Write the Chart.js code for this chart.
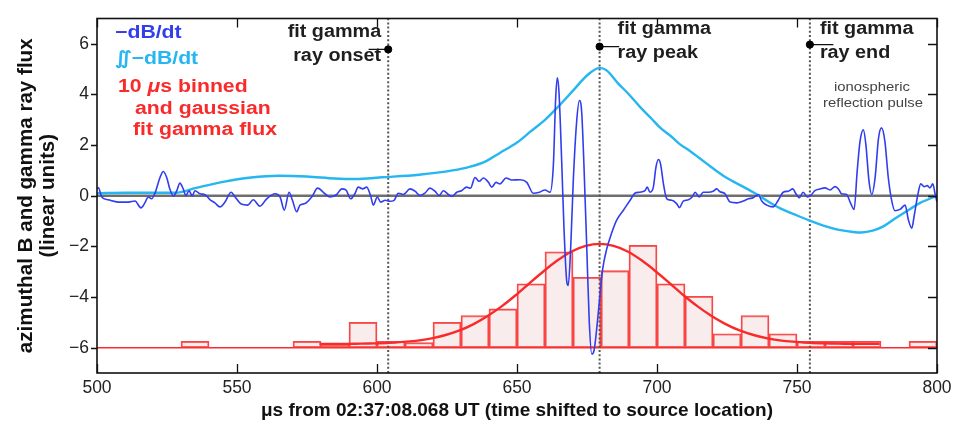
<!DOCTYPE html>
<html>
<head>
<meta charset="utf-8">
<script src="https://cdn.jsdelivr.net/npm/chart.js@4.4.1/dist/chart.umd.min.js"></script>
<style>
  html, body { margin: 0; padding: 0; background: #fff; }
  #wrap { width: 957px; height: 429px; }
</style>
</head>
<body>
<div id="wrap"><canvas id="c" width="957" height="429"></canvas></div>
<script>
// -dB/dt (blue)
const blueTime = [500, 500.5, 501.7, 504, 507.6, 511.2, 513.6, 515.7, 517.1, 518.3, 519.5, 520.7, 522.5, 523.7, 524.9, 526, 527.3, 528.5, 529.6, 530.8, 531.7, 532.9, 534, 535, 536.8, 538.6, 540.4, 542.1, 543.9, 545.7, 547.9, 549.3, 551.7, 553.8, 555.8, 558.2, 560.6, 563.6, 565.4, 566.9, 568.6, 569.8, 571.3, 572.5, 574.3, 576.7, 578.8, 581.4, 583.2, 585.6, 587.4, 588.9, 590.6, 592.1, 593.3, 594.9, 596.3, 597.7, 598.7, 600.1, 601.3, 602.9, 604.6, 606.1, 607.6, 609.4, 611.8, 613.6, 615.4, 617.1, 618.9, 620.7, 622.2, 623.7, 625.5, 626.7, 628.5, 630.2, 632, 633.4, 635, 636.5, 638, 639.8, 641, 642.5, 643.9, 646.1, 648.1, 651.1, 653.5, 655.8, 658, 660, 661.8, 663, 663.8, 664.4, 665, 666, 666.8, 667.8, 668.3, 669.2, 670.1, 671.3, 672.3, 673.1, 673.9, 674.9, 675.8, 676.7, 677.5, 678.5, 679.4, 680.6, 682, 683.8, 685.6, 688, 690.4, 692.1, 693.9, 695.7, 696.5, 697.5, 698.7, 699.6, 700.5, 701.3, 702.3, 703.5, 705.3, 707, 708, 709.4, 711.2, 712.7, 713.6, 715.1, 716.5, 718.3, 720.1, 721.3, 722.5, 724.3, 726.1, 728.5, 730.8, 732.6, 734.4, 736.2, 737.4, 739.2, 741.5, 743.3, 745.1, 746.9, 748.5, 749.6, 750.8, 752.2, 753.7, 754.9, 756.4, 758.2, 760, 761.8, 763.6, 764.8, 765.9, 767.7, 769.2, 770.4, 771.5, 772.5, 773.7, 774.6, 775.7, 776.7, 777.9, 779.1, 780.2, 781.4, 782.6, 783.8, 785, 786.8, 788.6, 789.8, 791, 791.8, 793, 794.2, 795.4, 796.5, 797.5, 798.5, 799.3, 800];
const blueValue = [0.3, 0.31, -0.05, -0.16, -0.25, -0.25, -0.21, -0.48, -0.28, -0.05, -0.12, 0.1, 0.72, 0.96, 0.72, 0.27, -0.01, 0.2, 0.5, 0.27, 0.01, 0.2, -0.01, 0.2, 0.08, 0.04, -0.16, -0.28, -0.44, -0.25, 0.14, -0.05, -0.34, -0.37, -0.16, -0.41, -0.12, 0.08, -0.05, -0.57, 0.14, -0.18, -0.63, -0.37, -0.31, -0.05, 0.3, 0.08, -0.05, 0.05, 0.27, 0.23, -0.12, 0.08, 0.34, 0.27, 0.34, 0.01, -0.37, -0.05, -0.25, -0.18, -0.22, -0.18, 0.1, 0.05, 0.27, 0.18, 0.01, 0.1, 0.3, 0.18, 0.01, 0.2, 0.05, -0.03, 0.14, 0.2, 0.34, 0.3, 0.72, 0.57, 0.7, 0.53, 0.34, 0.53, 0.47, 0.7, 0.62, 0.63, 0.53, 0.1, 0.14, 0.23, 0.14, 1.24, 3.83, 4.66, 4.08, 1.24, -1.34, -3.41, -3.54, -1.99, 0.59, 2.92, 3.76, 3.31, 1.24, -1.99, -4.96, -6.25, -6.12, -5.22, -4.19, -2.9, -2.12, -1.47, -0.96, -0.57, -0.18, 0.1, 0.14, 0.2, 0.34, 0.14, 0.34, 1.11, 1.43, 1.24, 0.47, -0.12, -0.18, -0.31, -0.47, -0.21, -0.16, -0.03, 0.14, -0.05, 0.14, 0.14, 0.18, 0.27, 0.16, 0.08, -0.25, -0.28, -0.21, -0.12, -0.08, 0.05, -0.21, -0.37, -0.44, -0.18, 0.14, 0.18, 0.27, 0.08, -0.08, 0.14, -0.05, 0.01, 0.2, 0.27, 0.31, 0.23, 0.36, 0.27, 0.08, 0.05, -0.31, -0.54, 0.98, 2.14, 2.6, 2.02, 0.59, 0.05, 0.72, 2.27, 2.68, 2.14, 0.72, -0.18, -0.59, -0.54, -0.37, -0.96, -1.28, -0.83, -0.05, 0.47, 0.36, 0.4, 0.31, 0.47, 0.08, -0.25];

// double integral of -dB/dt (light blue)
const cyanTime = [500, 510, 520, 528, 535, 545, 555, 565, 575, 585, 592, 602, 615, 627, 633, 639, 644, 650, 655, 660, 665, 670, 675, 679.5, 682, 686, 690, 694, 698, 701, 705, 708, 712, 715, 718, 721, 725, 730, 735, 740, 744, 750, 755, 760, 765, 770, 773, 777, 781, 785, 790, 794, 800];
const cyanValue = [0.1, 0.12, 0.12, 0.12, 0.3, 0.55, 0.72, 0.79, 0.76, 0.68, 0.66, 0.73, 0.83, 1.0, 1.14, 1.37, 1.7, 2.1, 2.55, 3.0, 3.55, 4.15, 4.75, 5.05, 4.95, 4.45, 4.0, 3.5, 3.05, 2.7, 2.35, 2.05, 1.75, 1.5, 1.25, 1.0, 0.7, 0.4, 0.1, -0.25, -0.5, -0.78, -1.0, -1.2, -1.35, -1.43, -1.45, -1.38, -1.2, -0.9, -0.55, -0.28, 0.0];

// 10 us binned gamma flux (bin centres and bar tops, base at -6)
const binCenter = [505, 515, 525, 535, 545, 555, 565, 575, 585, 595, 605, 615, 625, 635, 645, 655, 665, 675, 685, 695, 705, 715, 725, 735, 745, 755, 765, 775, 785, 795];
const binTop = [-6, -6, -6, -5.75, -6, -6, -6, -5.75, -5.87, -5.0, -5.75, -5.8, -5.0, -4.73, -4.47, -3.48, -2.21, -3.22, -2.96, -1.96, -3.48, -3.97, -5.45, -4.73, -5.45, -5.75, -5.75, -5.75, -6, -5.75];
const histBase = -6;

// gaussian fit curve
const fitTime = [579.5, 584.5, 589.5, 594.5, 599.5, 604.5, 609.5, 614.5, 619.5, 624.5, 629.5, 634.5, 639.5, 644.5, 649.5, 654.5, 659.5, 664.5, 669.5, 674.5, 679.5, 684.5, 689.5, 694.5, 699.5, 704.5, 709.5, 714.5, 719.5, 724.5, 729.5, 734.5, 739.5, 744.5, 749.5, 754.5, 759.5, 764.5, 769.5, 774.5, 779.5];
const fitValue = [-5.85, -5.85, -5.85, -5.84, -5.83, -5.81, -5.77, -5.72, -5.63, -5.5, -5.32, -5.07, -4.75, -4.37, -3.93, -3.45, -2.98, -2.55, -2.2, -1.98, -1.9, -1.98, -2.2, -2.55, -2.98, -3.45, -3.93, -4.37, -4.75, -5.07, -5.32, -5.5, -5.63, -5.72, -5.77, -5.81, -5.83, -5.84, -5.85, -5.85, -5.85];

// fit gamma ray onset / peak / end
const markerTime = [604, 679.5, 754.6];
const markerLevel = [5.78, 5.89, 5.97];
const markerLeadTo = [597, 686.5, 763];

const xTicks = [500, 550, 600, 650, 700, 750, 800];
const yTicks = [-6, -4, -2, 0, 2, 4, 6];

const BLUE = 'rgb(48,62,238)';
const CYAN = 'rgb(38,182,240)';
const RED = 'rgb(250,42,42)';
const FAMILY = '"Liberation Sans", Arial, sans-serif';

function pts(xs, ys) { return xs.map((x, i) => ({ x, y: ys[i] })); }

const datasets = [];
datasets.push({ type: 'line', data: pts([500, 800], [0, 0]), borderColor: '#6e6e6e', borderWidth: 2.5, pointRadius: 0, order: 20 });
datasets.push({ type: 'line', data: pts([500, 800], [histBase, histBase]), borderColor: RED, borderWidth: 1.5, pointRadius: 0, order: 19 });
datasets.push({
  type: 'bar', data: binCenter.map((c, i) => ({ x: c, y: [histBase, binTop[i]] })),
  backgroundColor: 'rgba(236,205,205,0.38)', borderColor: 'rgba(250,50,50,0.9)', borderWidth: 1.4,
  borderSkipped: false, barPercentage: 1, categoryPercentage: 1, grouped: false, order: 18
});
markerTime.forEach((t) => {
  datasets.push({ type: 'line', data: pts([t, t], [-7, 7]), borderColor: '#555', borderWidth: 2, borderDash: [2, 2.2], pointRadius: 0, order: 15 });
});
datasets.push({ type: 'line', data: pts(fitTime, fitValue), borderColor: RED, borderWidth: 2.4, pointRadius: 0, tension: 0.3, order: 10 });
datasets.push({ type: 'line', data: pts(cyanTime, cyanValue), borderColor: CYAN, borderWidth: 2.4, pointRadius: 0, cubicInterpolationMode: 'monotone', order: 8 });
datasets.push({ type: 'line', data: pts(blueTime, blueValue), borderColor: BLUE, borderWidth: 1.6, pointRadius: 0, cubicInterpolationMode: 'monotone', order: 6 });
markerTime.forEach((t, i) => {
  datasets.push({ type: 'line', data: pts([markerLeadTo[i], t], [markerLevel[i], markerLevel[i]]), borderColor: '#111', borderWidth: 1.4, pointRadius: 0, order: 3 });
});
datasets.push({ type: 'scatter', data: pts(markerTime, markerLevel), backgroundColor: '#000', borderColor: '#000', pointRadius: 3.6, order: 2 });

// text with slight horizontal stretch, runs = [[text, font, color], ...]
function drawRuns(ctx, runs, x, y, sx, align) {
  ctx.save();
  ctx.textBaseline = 'alphabetic';
  ctx.textAlign = 'left';
  let w = 0;
  runs.forEach(([t, f]) => { ctx.font = f; w += ctx.measureText(t).width; });
  let left = x;
  if (align === 'right') left = x - w * sx;
  else if (align === 'center') left = x - w * sx / 2;
  ctx.translate(left, y);
  ctx.scale(sx, 1);
  let cx = 0;
  runs.forEach(([t, f, c]) => {
    ctx.font = f; ctx.fillStyle = c;
    ctx.fillText(t, cx, 0);
    cx += ctx.measureText(t).width;
  });
  ctx.restore();
}

const framePlugin = {
  id: 'frame',
  afterDatasetsDraw(chart) {
    const ctx = chart.ctx;
    const a = chart.chartArea;
    const xs = chart.scales.x, ys = chart.scales.y;
    ctx.save();
    ctx.strokeStyle = '#111';
    ctx.lineWidth = 1.3;
    ctx.beginPath();
    xTicks.forEach((v) => {
      const px = Math.round(xs.getPixelForValue(v)) + 0.5;
      ctx.moveTo(px, a.bottom); ctx.lineTo(px, a.bottom - 9);
      ctx.moveTo(px, a.top); ctx.lineTo(px, a.top + 9);
    });
    yTicks.forEach((v) => {
      const py = Math.round(ys.getPixelForValue(v)) + 0.5;
      ctx.moveTo(a.left - 6, py); ctx.lineTo(a.left, py);
      ctx.moveTo(a.right, py); ctx.lineTo(a.right - 9, py);
    });
    ctx.stroke();
    ctx.lineWidth = 1.6;
    ctx.strokeRect(a.left, a.top, a.right - a.left, a.bottom - a.top);

    const B = 'bold 18px ' + FAMILY;
    const BI = 'italic bold 18px ' + FAMILY;
    // legend text
    drawRuns(ctx, [['\u2212dB/dt', B, BLUE]], 115, 38, 1.18);
    drawRuns(ctx, [['\u222C\u2212dB/dt', B, CYAN]], 115, 64, 1.18);
    drawRuns(ctx, [['10 ', B, RED], ['\u03BC', BI, RED], ['s binned', B, RED]], 118, 92, 1.18);
    drawRuns(ctx, [['and gaussian', B, RED]], 135, 114, 1.18);
    drawRuns(ctx, [['fit gamma flux', B, RED]], 133, 135, 1.18);

    // fit annotations
    const K = '#1e1e1e';
    const on = xs.getPixelForValue(markerTime[0]);
    const pk = xs.getPixelForValue(markerTime[1]);
    const en = xs.getPixelForValue(markerTime[2]);
    drawRuns(ctx, [['fit gamma', B, K]], on - 7, 37, 1.1, 'right');
    drawRuns(ctx, [['ray onset', B, K]], on - 7, 61, 1.1, 'right');
    drawRuns(ctx, [['fit gamma', B, K]], pk + 18, 34, 1.1);
    drawRuns(ctx, [['ray peak', B, K]], pk + 18, 58, 1.1);
    drawRuns(ctx, [['fit gamma', B, K]], en + 10, 34, 1.1);
    drawRuns(ctx, [['ray end', B, K]], en + 10, 58, 1.1);

    const S = '13.5px ' + FAMILY;
    drawRuns(ctx, [['ionospheric', S, '#444']], 872, 91, 1.1, 'center');
    drawRuns(ctx, [['reflection pulse', S, '#444']], 873, 107, 1.1, 'center');

    // y axis title, two rotated lines
    const T = 'bold 20px ' + FAMILY;
    const cy = (a.top + a.bottom) / 2;
    ctx.save();
    ctx.translate(0, cy);
    ctx.rotate(-Math.PI / 2);
    drawRuns(ctx, [['azimuthal B and gamma ray flux', T, '#111']], 0, 32, 1.03, 'center');
    drawRuns(ctx, [['(linear units)', T, '#111']], 0, 54, 1.03, 'center');
    ctx.restore();
    ctx.restore();
  }
};

const minus = (v) => (v < 0 ? '\u2212' + Math.abs(v) : String(v));

new Chart(document.getElementById('c').getContext('2d'), {
  type: 'bar',
  data: { datasets },
  plugins: [framePlugin],
  options: {
    responsive: false,
    animation: false,
    events: [],
    layout: { padding: { top: 11, right: 20, left: 0, bottom: 0 } },
    plugins: { legend: { display: false }, tooltip: { enabled: false } },
    scales: {
      x: {
        type: 'linear', min: 500, max: 800, offset: false,
        grid: { display: false, drawTicks: false, offset: false },
        border: { display: false },
        afterBuildTicks: (s) => { s.ticks = xTicks.map((v) => ({ value: v })); },
        ticks: { padding: 5, color: '#222', maxRotation: 0, autoSkip: false, font: { size: 17.5, family: FAMILY } },
        title: {
          display: true, text: '\u03BCs from 02:37:08.068 UT (time shifted to source location)',
          color: '#111', font: { size: 19, weight: 'bold', family: FAMILY },
          padding: { top: 0, bottom: 7 }
        },
        afterFit: (s) => { s.height = 56; }
      },
      y: {
        type: 'linear', min: -7, max: 7,
        grid: { display: false, drawTicks: false },
        border: { display: false },
        afterBuildTicks: (s) => { s.ticks = yTicks.map((v) => ({ value: v })); },
        ticks: { padding: 8, color: '#222', callback: minus, font: { size: 17.5, family: FAMILY } },
        afterFit: (s) => { s.width = 97; }
      }
    }
  }
});
</script>
</body>
</html>
